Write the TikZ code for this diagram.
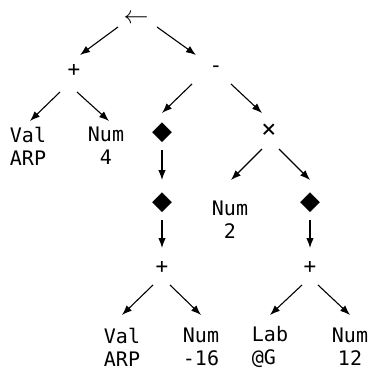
\documentclass[tikz,border=0pt]{standalone}
\usepackage{fontspec}
\setmonofont{DejaVu Sans Mono}
\newfontfamily\symfont{DejaVu Sans}
\usetikzlibrary{arrows.meta,calc}
\begin{document}
\begin{tikzpicture}[x=1pt,y=-1pt,
  lbl/.style={inner sep=0pt,align=center,font=\ttfamily\fontsize{20}{23}\selectfont},
  op/.style={inner sep=0pt,font=\ttfamily\fontsize{21}{23}\selectfont},
  dia/.style={inner sep=0pt,font=\symfont\fontsize{26}{28}\selectfont},
  arr/.style={line width=1.1pt,-{Latex[length=10pt,width=7.5pt]}}]
\useasboundingbox (0,0) rectangle (369,370);
% nodes
\node[inner sep=0pt,font=\fontsize{23}{26}\selectfont] (root) at (136,19) {$\leftarrow$};
\node[op] (p1) at (74,70) {+};
\node[op] (m) at (216,69) {-};
\node[lbl] (v1) at (28,146) {Val\\ARP};
\node[lbl] (n4) at (106,146) {Num\\4};
\node[dia] (d1) at (162,133) {◆};
\node[op,font=\ttfamily\fontsize{25}{27}\selectfont] (x) at (269,131) {×};
\node[dia] (d2) at (162,203) {◆};
\node[lbl] (n2) at (230,220) {Num\\2};
\node[dia] (d3) at (310,203) {◆};
\node[op] (p2) at (162,267) {+};
\node[op] (p3) at (310,267) {+};
\node[lbl] (v2) at (122,347) {Val\\ARP};
\node[lbl] (n16) at (201,347) {Num\\-16};
\node[lbl] (lab) at (270,347) {Lab\\@G\hphantom{b}};
\node[lbl] (n12) at (350,347) {Num\\12};
% connectors
\draw[arr] ($(root)+(-18,8)$) -- ($(p1)+(6,-15)$);
\draw[arr] ($(root)+(21,8)$) -- ($(m)+(-20,-14)$);
\draw[arr] ($(p1)+(-14,22)$) -- ($(v1)+(2,-25)$);
\draw[arr] ($(p1)+(3,22)$) -- ($(n4)+(3,-25)$);
\draw[arr] ($(m)+(-24,15)$) -- ($(d1)+(0,-20)$);
\draw[arr] ($(m)+(15,15)$) -- ($(x)+(-7,-18)$);
\draw[arr] ($(d1)+(0,17)$) -- ($(d2)+(0,-23)$);
\draw[arr] ($(x)+(-7,18)$) -- ($(n2)+(1,-40)$);
\draw[arr] ($(x)+(10,18)$) -- ($(d3)+(0,-23)$);
\draw[arr] ($(d2)+(0,17)$) -- ($(p2)+(0,-19)$);
\draw[arr] ($(d3)+(0,17)$) -- ($(p3)+(0,-19)$);
\draw[arr] ($(p2)+(-9,18)$) -- ($(v2)+(0,-32)$);
\draw[arr] ($(p2)+(8,18)$) -- ($(n16)+(0,-32)$);
\draw[arr] ($(p3)+(-8,18)$) -- ($(lab)+(0,-32)$);
\draw[arr] ($(p3)+(8,18)$) -- ($(n12)+(0,-32)$);
\end{tikzpicture}
\end{document}
